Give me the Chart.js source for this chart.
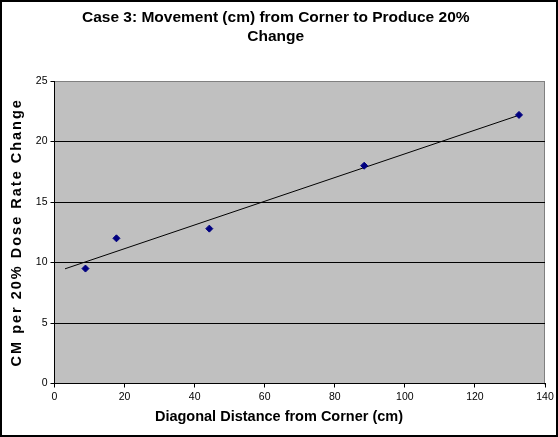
<!DOCTYPE html>
<html>
<head>
<meta charset="utf-8">
<script src="https://cdn.jsdelivr.net/npm/chart.js@4/dist/chart.umd.min.js"></script>
<style>
  html, body { margin: 0; padding: 0; background: #fff; }
  #wrap { width: 558px; height: 437px; }
</style>
</head>
<body>
<div id="wrap"><canvas id="chart" width="558" height="437"></canvas></div>
<script>
// Diagonal distance from the corner (cm) and movement needed for a 20% dose-rate change (cm)
const distances = [8.84, 17.68, 44.19, 88.39, 132.58];
const cmPerChange = [9.5, 12.0, 12.8, 18.0, 22.2];

// Axis ranges and tick steps
const xRange = [0, 140];
const xStep = 20;
const yRange = [0, 25];
const yStep = 5;

// The fitted line starts a little before the first measurement
const trendStartX = 3;

const titleLines = ['Case 3: Movement (cm) from Corner to Produce 20%', 'Change'];
const xTitle = 'Diagonal Distance from Corner (cm)';
const yTitle = 'CM per 20% Dose Rate Change';

// Least-squares linear trendline through the measurements
function linearFit(xs, ys) {
  const n = xs.length;
  const mx = xs.reduce((a, b) => a + b, 0) / n;
  const my = ys.reduce((a, b) => a + b, 0) / n;
  let sxy = 0, sxx = 0;
  for (let i = 0; i < n; i++) {
    sxy += (xs[i] - mx) * (ys[i] - my);
    sxx += (xs[i] - mx) * (xs[i] - mx);
  }
  const slope = sxy / sxx;
  return { slope, intercept: my - slope * mx };
}
const fit = linearFit(distances, cmPerChange);
const trendEndX = Math.max(...distances);
const trendPoints = [trendStartX, trendEndX].map(x => ({ x, y: fit.intercept + fit.slope * x }));

const measured = distances.map((x, i) => ({ x, y: cmPerChange[i] }));

const FONT = 'Arial, "Liberation Sans", sans-serif';

// Wrap a scale's title drawing with extra canvas state
function wrapTitle(chart, scale, prepare) {
  if (!scale || scale._titleWrapped) return;
  const orig = scale.drawTitle.bind(scale);
  scale.drawTitle = function () {
    const ctx = chart.ctx;
    ctx.save();
    prepare(ctx, scale);
    orig();
    ctx.restore();
  };
  scale._titleWrapped = true;
}

// Page background, grey plot area and the outer frame
const framePlugin = {
  id: 'frame',
  afterLayout(chart) {
    // vertical title is spread out along its length
    wrapTitle(chart, chart.scales.y, ctx => { ctx.letterSpacing = '2px'; });
    // horizontal title is centred on the whole canvas rather than the plot
    wrapTitle(chart, chart.scales.x, (ctx, s) => {
      ctx.translate(chart.width / 2 - (s.left + s.right) / 2, 0);
    });
  },
  beforeDraw(chart) {
    const { ctx, chartArea: a, width, height } = chart;
    ctx.save();
    ctx.fillStyle = '#ffffff';
    ctx.fillRect(0, 0, width, height);
    ctx.fillStyle = '#c0c0c0';
    ctx.fillRect(a.left, a.top, a.right - a.left, a.bottom - a.top);
    ctx.strokeStyle = '#808080';
    ctx.lineWidth = 1;
    ctx.beginPath();
    ctx.moveTo(Math.round(a.left) + 0.5, Math.round(a.top) + 0.5);
    ctx.lineTo(Math.round(a.right) - 0.5, Math.round(a.top) + 0.5);
    ctx.lineTo(Math.round(a.right) - 0.5, Math.round(a.bottom) + 0.5);
    ctx.stroke();
    ctx.restore();
  },
  afterDraw(chart) {
    const { ctx, width, height } = chart;
    ctx.save();
    ctx.strokeStyle = '#000000';
    ctx.lineWidth = 2;
    ctx.strokeRect(1, 1, width - 2, height - 2);
    ctx.restore();
  }
};

new Chart(document.getElementById('chart'), {
  type: 'scatter',
  data: {
    datasets: [
      {
        label: 'Measured',
        data: measured,
        pointStyle: 'rectRot',
        pointRadius: 3.5,
        backgroundColor: '#000080',
        borderColor: '#000080',
        borderWidth: 1,
        showLine: false
      },
      {
        label: 'Linear trend',
        data: trendPoints,
        showLine: true,
        pointRadius: 0,
        borderColor: '#000000',
        borderWidth: 1,
        fill: false
      }
    ]
  },
  plugins: [framePlugin],
  options: {
    responsive: false,
    animation: false,
    devicePixelRatio: 1,
    layout: { padding: { left: 6.5, right: 13, top: 0, bottom: 0 } },
    plugins: {
      legend: { display: false },
      tooltip: { enabled: false },
      title: {
        display: true,
        text: titleLines,
        color: '#000000',
        font: { family: FONT, size: 15.5, weight: 'bold', lineHeight: 1.23 },
        padding: { top: 8.5, bottom: 34.4 }
      }
    },
    scales: {
      x: {
        type: 'linear',
        min: xRange[0],
        max: xRange[1],
        afterFit(scale) { scale.height = 53.5; },
        ticks: {
          stepSize: xStep,
          color: '#000000',
          font: { family: FONT, size: 10.5 },
          padding: 3,
          maxRotation: 0
        },
        grid: {
          drawOnChartArea: false,
          drawTicks: true,
          tickLength: 4,
          tickColor: '#000000'
        },
        border: { display: true, color: '#000000', width: 1 },
        title: {
          display: true,
          text: xTitle,
          color: '#000000',
          font: { family: FONT, size: 14.5, weight: 'bold' },
          padding: { top: 0, bottom: 11 }
        }
      },
      y: {
        type: 'linear',
        min: yRange[0],
        max: yRange[1],
        afterFit(scale) { scale.width = 48; },
        ticks: {
          stepSize: yStep,
          color: '#000000',
          font: { family: FONT, size: 10.5 },
          padding: 3
        },
        grid: {
          drawTicks: true,
          tickLength: 4,
          tickColor: '#000000',
          color: ctx => {
            const v = ctx.tick ? ctx.tick.value : null;
            if (v === yRange[1]) return '#808080';
            if (v === yRange[0]) return 'rgba(0,0,0,0)';
            return '#000000';
          }
        },
        border: { display: true, color: '#000000', width: 1 },
        title: {
          display: true,
          text: yTitle,
          color: '#000000',
          font: { family: FONT, size: 14.5, weight: 'bold' },
          padding: { top: 1.5, bottom: 0 }
        }
      }
    }
  }
});
</script>
</body>
</html>
